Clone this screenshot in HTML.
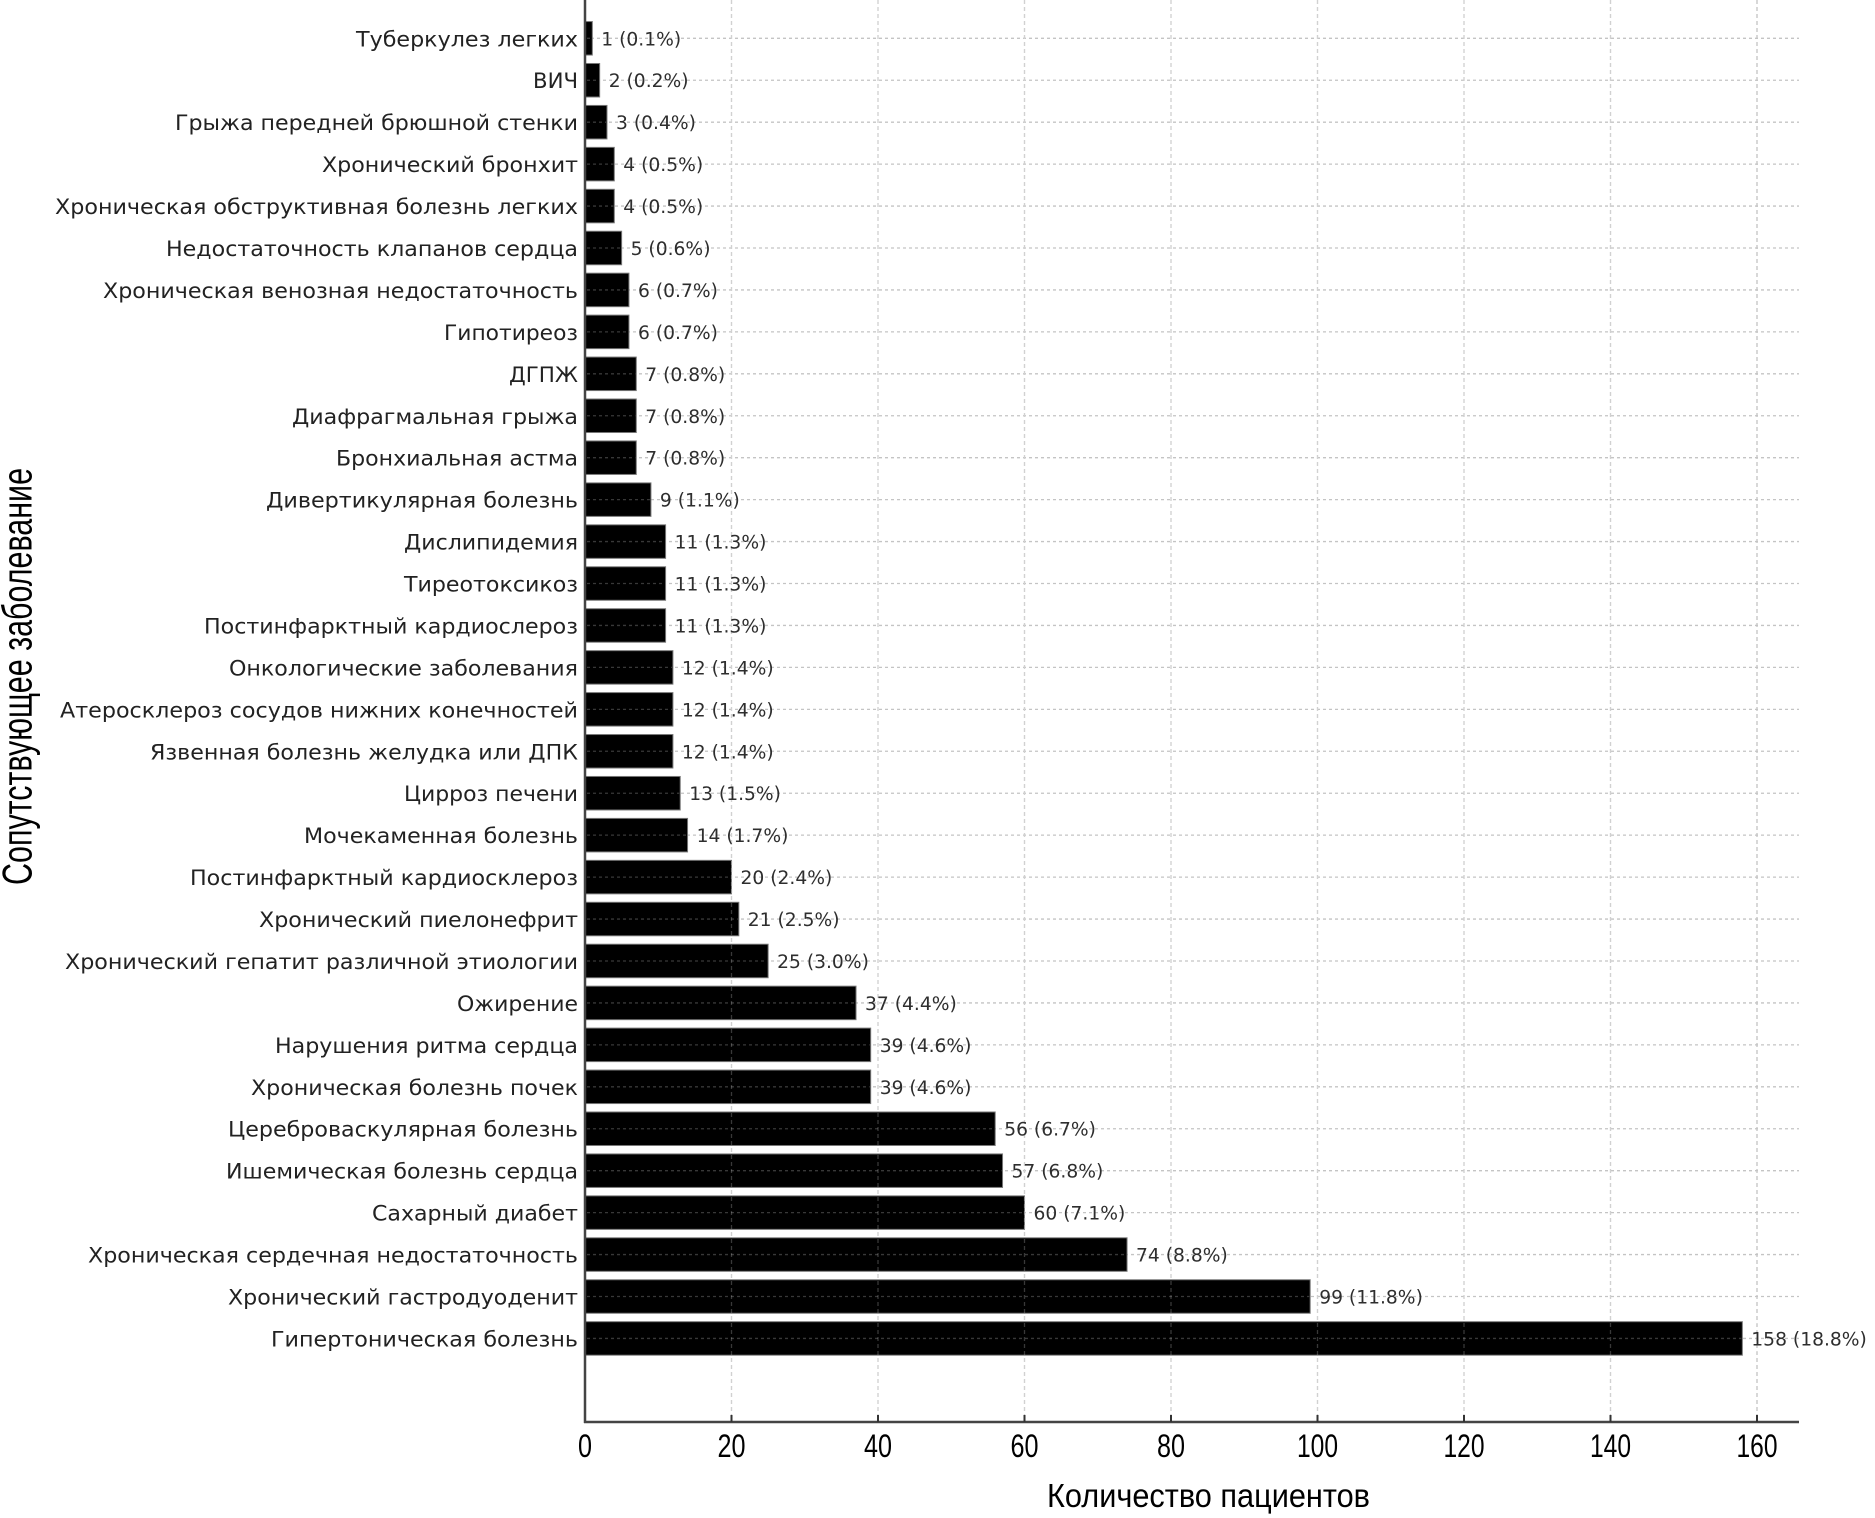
<!DOCTYPE html>
<html><head><meta charset="utf-8"><style>
html,body{margin:0;padding:0;background:#fff;}
svg{display:block;}
.cat{font-family:"DejaVu Sans","Liberation Sans",sans-serif;font-size:21px;fill:#222;text-anchor:end;}
.val{font-family:"DejaVu Sans","Liberation Sans",sans-serif;font-size:18.7px;fill:#2e2e2e;}
.tick{font-family:"Liberation Sans",sans-serif;font-size:32px;fill:#000;text-anchor:middle;}
</style></head><body>
<svg width="1875" height="1518" viewBox="0 0 1875 1518" xmlns="http://www.w3.org/2000/svg">
<rect width="1875" height="1518" fill="#fff"/>
<!-- vertical grid -->
<g stroke="#c4c4c4" stroke-width="1.3" stroke-dasharray="4 3">
<line x1="731.5" y1="0" x2="731.5" y2="1422"/>
<line x1="878" y1="0" x2="878" y2="1422"/>
<line x1="1024.5" y1="0" x2="1024.5" y2="1422"/>
<line x1="1171" y1="0" x2="1171" y2="1422"/>
<line x1="1317.5" y1="0" x2="1317.5" y2="1422"/>
<line x1="1464" y1="0" x2="1464" y2="1422"/>
<line x1="1610.5" y1="0" x2="1610.5" y2="1422"/>
<line x1="1757" y1="0" x2="1757" y2="1422"/>
</g>
<!-- horizontal grid -->
<g stroke="#c4c4c4" stroke-width="1.3" stroke-dasharray="3 3">
<line x1="585" y1="38.3" x2="1799" y2="38.3"/>
<line x1="585" y1="80.24" x2="1799" y2="80.24"/>
<line x1="585" y1="122.18" x2="1799" y2="122.18"/>
<line x1="585" y1="164.12" x2="1799" y2="164.12"/>
<line x1="585" y1="206.06" x2="1799" y2="206.06"/>
<line x1="585" y1="248" x2="1799" y2="248"/>
<line x1="585" y1="289.94" x2="1799" y2="289.94"/>
<line x1="585" y1="331.88" x2="1799" y2="331.88"/>
<line x1="585" y1="373.82" x2="1799" y2="373.82"/>
<line x1="585" y1="415.76" x2="1799" y2="415.76"/>
<line x1="585" y1="457.7" x2="1799" y2="457.7"/>
<line x1="585" y1="499.64" x2="1799" y2="499.64"/>
<line x1="585" y1="541.58" x2="1799" y2="541.58"/>
<line x1="585" y1="583.52" x2="1799" y2="583.52"/>
<line x1="585" y1="625.46" x2="1799" y2="625.46"/>
<line x1="585" y1="667.4" x2="1799" y2="667.4"/>
<line x1="585" y1="709.34" x2="1799" y2="709.34"/>
<line x1="585" y1="751.28" x2="1799" y2="751.28"/>
<line x1="585" y1="793.22" x2="1799" y2="793.22"/>
<line x1="585" y1="835.16" x2="1799" y2="835.16"/>
<line x1="585" y1="877.1" x2="1799" y2="877.1"/>
<line x1="585" y1="919.04" x2="1799" y2="919.04"/>
<line x1="585" y1="960.98" x2="1799" y2="960.98"/>
<line x1="585" y1="1002.92" x2="1799" y2="1002.92"/>
<line x1="585" y1="1044.86" x2="1799" y2="1044.86"/>
<line x1="585" y1="1086.8" x2="1799" y2="1086.8"/>
<line x1="585" y1="1128.74" x2="1799" y2="1128.74"/>
<line x1="585" y1="1170.68" x2="1799" y2="1170.68"/>
<line x1="585" y1="1212.62" x2="1799" y2="1212.62"/>
<line x1="585" y1="1254.56" x2="1799" y2="1254.56"/>
<line x1="585" y1="1296.5" x2="1799" y2="1296.5"/>
<line x1="585" y1="1338.44" x2="1799" y2="1338.44"/>
</g>

<!-- bars -->
<g stroke="#777" stroke-width="1" fill="#000">
<rect x="585" y="21.55" width="7.33" height="33.5"/>
<rect x="585" y="63.49" width="14.65" height="33.5"/>
<rect x="585" y="105.43" width="21.98" height="33.5"/>
<rect x="585" y="147.37" width="29.3" height="33.5"/>
<rect x="585" y="189.31" width="29.3" height="33.5"/>
<rect x="585" y="231.25" width="36.63" height="33.5"/>
<rect x="585" y="273.19" width="43.95" height="33.5"/>
<rect x="585" y="315.13" width="43.95" height="33.5"/>
<rect x="585" y="357.07" width="51.28" height="33.5"/>
<rect x="585" y="399.01" width="51.28" height="33.5"/>
<rect x="585" y="440.95" width="51.28" height="33.5"/>
<rect x="585" y="482.89" width="65.93" height="33.5"/>
<rect x="585" y="524.83" width="80.58" height="33.5"/>
<rect x="585" y="566.77" width="80.58" height="33.5"/>
<rect x="585" y="608.71" width="80.58" height="33.5"/>
<rect x="585" y="650.65" width="87.9" height="33.5"/>
<rect x="585" y="692.59" width="87.9" height="33.5"/>
<rect x="585" y="734.53" width="87.9" height="33.5"/>
<rect x="585" y="776.47" width="95.23" height="33.5"/>
<rect x="585" y="818.41" width="102.55" height="33.5"/>
<rect x="585" y="860.35" width="146.5" height="33.5"/>
<rect x="585" y="902.29" width="153.83" height="33.5"/>
<rect x="585" y="944.23" width="183.13" height="33.5"/>
<rect x="585" y="986.17" width="271.03" height="33.5"/>
<rect x="585" y="1028.11" width="285.68" height="33.5"/>
<rect x="585" y="1070.05" width="285.68" height="33.5"/>
<rect x="585" y="1111.99" width="410.2" height="33.5"/>
<rect x="585" y="1153.93" width="417.53" height="33.5"/>
<rect x="585" y="1195.87" width="439.5" height="33.5"/>
<rect x="585" y="1237.81" width="542.05" height="33.5"/>
<rect x="585" y="1279.75" width="725.18" height="33.5"/>
<rect x="585" y="1321.69" width="1157.35" height="33.5"/>
</g>

<!-- grid visible through bars (white overlay, invisible on white) -->
<g stroke="#fff" stroke-opacity="0.22" stroke-width="1.3" stroke-dasharray="4 3">
<line x1="731.5" y1="0" x2="731.5" y2="1422"/>
<line x1="878" y1="0" x2="878" y2="1422"/>
<line x1="1024.5" y1="0" x2="1024.5" y2="1422"/>
<line x1="1171" y1="0" x2="1171" y2="1422"/>
<line x1="1317.5" y1="0" x2="1317.5" y2="1422"/>
<line x1="1464" y1="0" x2="1464" y2="1422"/>
<line x1="1610.5" y1="0" x2="1610.5" y2="1422"/>
<line x1="1757" y1="1320" x2="1757" y2="1356"/>
</g>
<g stroke="#fff" stroke-opacity="0.22" stroke-width="1.3" stroke-dasharray="3 3">
<line x1="587" y1="38.3" x2="591" y2="38.3"/>
<line x1="587" y1="80.24" x2="598.6" y2="80.24"/>
<line x1="587" y1="122.18" x2="606" y2="122.18"/>
<line x1="587" y1="164.12" x2="613.3" y2="164.12"/>
<line x1="587" y1="206.06" x2="613.3" y2="206.06"/>
<line x1="587" y1="248" x2="620.6" y2="248"/>
<line x1="587" y1="289.94" x2="628" y2="289.94"/>
<line x1="587" y1="331.88" x2="628" y2="331.88"/>
<line x1="587" y1="373.82" x2="635.3" y2="373.82"/>
<line x1="587" y1="415.76" x2="635.3" y2="415.76"/>
<line x1="587" y1="457.7" x2="635.3" y2="457.7"/>
<line x1="587" y1="499.64" x2="649.9" y2="499.64"/>
<line x1="587" y1="541.58" x2="664.6" y2="541.58"/>
<line x1="587" y1="583.52" x2="664.6" y2="583.52"/>
<line x1="587" y1="625.46" x2="664.6" y2="625.46"/>
<line x1="587" y1="667.4" x2="671.9" y2="667.4"/>
<line x1="587" y1="709.34" x2="671.9" y2="709.34"/>
<line x1="587" y1="751.28" x2="671.9" y2="751.28"/>
<line x1="587" y1="793.22" x2="679.2" y2="793.22"/>
<line x1="587" y1="835.16" x2="686.6" y2="835.16"/>
<line x1="587" y1="877.1" x2="730.5" y2="877.1"/>
<line x1="587" y1="919.04" x2="737.8" y2="919.04"/>
<line x1="587" y1="960.98" x2="767.1" y2="960.98"/>
<line x1="587" y1="1002.92" x2="855" y2="1002.92"/>
<line x1="587" y1="1044.86" x2="869.7" y2="1044.86"/>
<line x1="587" y1="1086.8" x2="869.7" y2="1086.8"/>
<line x1="587" y1="1128.74" x2="994.2" y2="1128.74"/>
<line x1="587" y1="1170.68" x2="1001.5" y2="1170.68"/>
<line x1="587" y1="1212.62" x2="1023.5" y2="1212.62"/>
<line x1="587" y1="1254.56" x2="1126" y2="1254.56"/>
<line x1="587" y1="1296.5" x2="1309.2" y2="1296.5"/>
<line x1="587" y1="1338.44" x2="1741.3" y2="1338.44"/>
</g>

<!-- category labels -->
<g class="cat">
<text x="578" y="46.3" textLength="222" lengthAdjust="spacingAndGlyphs">Туберкулез легких</text>
<text x="578" y="88.24" textLength="45" lengthAdjust="spacingAndGlyphs">ВИЧ</text>
<text x="578" y="130.18" textLength="403" lengthAdjust="spacingAndGlyphs">Грыжа передней брюшной стенки</text>
<text x="578" y="172.12" textLength="256" lengthAdjust="spacingAndGlyphs">Хронический бронхит</text>
<text x="578" y="214.06" textLength="523" lengthAdjust="spacingAndGlyphs">Хроническая обструктивная болезнь легких</text>
<text x="578" y="256" textLength="412" lengthAdjust="spacingAndGlyphs">Недостаточность клапанов сердца</text>
<text x="578" y="297.94" textLength="475" lengthAdjust="spacingAndGlyphs">Хроническая венозная недостаточность</text>
<text x="578" y="339.88" textLength="134" lengthAdjust="spacingAndGlyphs">Гипотиреоз</text>
<text x="578" y="381.82" textLength="69" lengthAdjust="spacingAndGlyphs">ДГПЖ</text>
<text x="578" y="423.76" textLength="286" lengthAdjust="spacingAndGlyphs">Диафрагмальная грыжа</text>
<text x="578" y="465.7" textLength="242" lengthAdjust="spacingAndGlyphs">Бронхиальная астма</text>
<text x="578" y="507.64" textLength="312" lengthAdjust="spacingAndGlyphs">Дивертикулярная болезнь</text>
<text x="578" y="549.58" textLength="174" lengthAdjust="spacingAndGlyphs">Дислипидемия</text>
<text x="578" y="591.52" textLength="174" lengthAdjust="spacingAndGlyphs">Тиреотоксикоз</text>
<text x="578" y="633.46" textLength="374" lengthAdjust="spacingAndGlyphs">Постинфарктный кардиослероз</text>
<text x="578" y="675.4" textLength="349" lengthAdjust="spacingAndGlyphs">Онкологические заболевания</text>
<text x="578" y="717.34" textLength="518" lengthAdjust="spacingAndGlyphs">Атеросклероз сосудов нижних конечностей</text>
<text x="578" y="759.28" textLength="428" lengthAdjust="spacingAndGlyphs">Язвенная болезнь желудка или ДПК</text>
<text x="578" y="801.22" textLength="174" lengthAdjust="spacingAndGlyphs">Цирроз печени</text>
<text x="578" y="843.16" textLength="274" lengthAdjust="spacingAndGlyphs">Мочекаменная болезнь</text>
<text x="578" y="885.1" textLength="388" lengthAdjust="spacingAndGlyphs">Постинфарктный кардиосклероз</text>
<text x="578" y="927.04" textLength="319" lengthAdjust="spacingAndGlyphs">Хронический пиелонефрит</text>
<text x="578" y="968.98" textLength="513" lengthAdjust="spacingAndGlyphs">Хронический гепатит различной этиологии</text>
<text x="578" y="1010.92" textLength="121" lengthAdjust="spacingAndGlyphs">Ожирение</text>
<text x="578" y="1052.86" textLength="303" lengthAdjust="spacingAndGlyphs">Нарушения ритма сердца</text>
<text x="578" y="1094.8" textLength="327" lengthAdjust="spacingAndGlyphs">Хроническая болезнь почек</text>
<text x="578" y="1136.74" textLength="350" lengthAdjust="spacingAndGlyphs">Цереброваскулярная болезнь</text>
<text x="578" y="1178.68" textLength="352" lengthAdjust="spacingAndGlyphs">Ишемическая болезнь сердца</text>
<text x="578" y="1220.62" textLength="206" lengthAdjust="spacingAndGlyphs">Сахарный диабет</text>
<text x="578" y="1262.56" textLength="490" lengthAdjust="spacingAndGlyphs">Хроническая сердечная недостаточность</text>
<text x="578" y="1304.5" textLength="350" lengthAdjust="spacingAndGlyphs">Хронический гастродуоденит</text>
<text x="578" y="1346.44" textLength="307" lengthAdjust="spacingAndGlyphs">Гипертоническая болезнь</text>
</g>

<!-- value labels -->
<g class="val">
<text x="601.3" y="45.3">1 (0.1%)</text>
<text x="608.7" y="87.24">2 (0.2%)</text>
<text x="616" y="129.18">3 (0.4%)</text>
<text x="623.3" y="171.12">4 (0.5%)</text>
<text x="623.3" y="213.06">4 (0.5%)</text>
<text x="630.6" y="255">5 (0.6%)</text>
<text x="638" y="296.94">6 (0.7%)</text>
<text x="638" y="338.88">6 (0.7%)</text>
<text x="645.3" y="380.82">7 (0.8%)</text>
<text x="645.3" y="422.76">7 (0.8%)</text>
<text x="645.3" y="464.7">7 (0.8%)</text>
<text x="659.9" y="506.64">9 (1.1%)</text>
<text x="674.6" y="548.58">11 (1.3%)</text>
<text x="674.6" y="590.52">11 (1.3%)</text>
<text x="674.6" y="632.46">11 (1.3%)</text>
<text x="681.9" y="674.4">12 (1.4%)</text>
<text x="681.9" y="716.34">12 (1.4%)</text>
<text x="681.9" y="758.28">12 (1.4%)</text>
<text x="689.2" y="800.22">13 (1.5%)</text>
<text x="696.6" y="842.16">14 (1.7%)</text>
<text x="740.5" y="884.1">20 (2.4%)</text>
<text x="747.8" y="926.04">21 (2.5%)</text>
<text x="777.1" y="967.98">25 (3.0%)</text>
<text x="865" y="1009.92">37 (4.4%)</text>
<text x="879.7" y="1051.86">39 (4.6%)</text>
<text x="879.7" y="1093.8">39 (4.6%)</text>
<text x="1004.2" y="1135.74">56 (6.7%)</text>
<text x="1011.5" y="1177.68">57 (6.8%)</text>
<text x="1033.5" y="1219.62">60 (7.1%)</text>
<text x="1136" y="1261.56">74 (8.8%)</text>
<text x="1319.2" y="1303.5">99 (11.8%)</text>
<text x="1751.3" y="1345.44">158 (18.8%)</text>
</g>

<!-- spines -->
<line x1="585" y1="0" x2="585" y2="1423" stroke="#444" stroke-width="2.5"/>
<line x1="584" y1="1422" x2="1799" y2="1422" stroke="#444" stroke-width="2.5"/>
<!-- ticks -->
<g stroke="#333" stroke-width="2">
<line x1="731.5" y1="1422" x2="731.5" y2="1415"/>
<line x1="878" y1="1422" x2="878" y2="1415"/>
<line x1="1024.5" y1="1422" x2="1024.5" y2="1415"/>
<line x1="1171" y1="1422" x2="1171" y2="1415"/>
<line x1="1317.5" y1="1422" x2="1317.5" y2="1415"/>
<line x1="1464" y1="1422" x2="1464" y2="1415"/>
<line x1="1610.5" y1="1422" x2="1610.5" y2="1415"/>
<line x1="1757" y1="1422" x2="1757" y2="1415"/>
</g>
<!-- tick labels -->
<g class="tick">
<text x="585" y="1457" textLength="14" lengthAdjust="spacingAndGlyphs">0</text>
<text x="731.5" y="1457" textLength="28" lengthAdjust="spacingAndGlyphs">20</text>
<text x="878" y="1457" textLength="28" lengthAdjust="spacingAndGlyphs">40</text>
<text x="1024.5" y="1457" textLength="28" lengthAdjust="spacingAndGlyphs">60</text>
<text x="1171" y="1457" textLength="28" lengthAdjust="spacingAndGlyphs">80</text>
<text x="1317.5" y="1457" textLength="41" lengthAdjust="spacingAndGlyphs">100</text>
<text x="1464" y="1457" textLength="41" lengthAdjust="spacingAndGlyphs">120</text>
<text x="1610.5" y="1457" textLength="41" lengthAdjust="spacingAndGlyphs">140</text>
<text x="1757" y="1457" textLength="41" lengthAdjust="spacingAndGlyphs">160</text>
</g>
<!-- axis labels -->
<text x="1208.5" y="1507" font-family="Liberation Sans, sans-serif" font-size="33" fill="#000" text-anchor="middle" textLength="323" lengthAdjust="spacingAndGlyphs">Количество пациентов</text>
<text transform="translate(31.5,676.5) rotate(-90)" x="0" y="0" font-family="Liberation Sans, sans-serif" font-size="42" fill="#000" text-anchor="middle" textLength="417" lengthAdjust="spacingAndGlyphs">Сопутствующее заболевание</text>
</svg>
</body></html>
